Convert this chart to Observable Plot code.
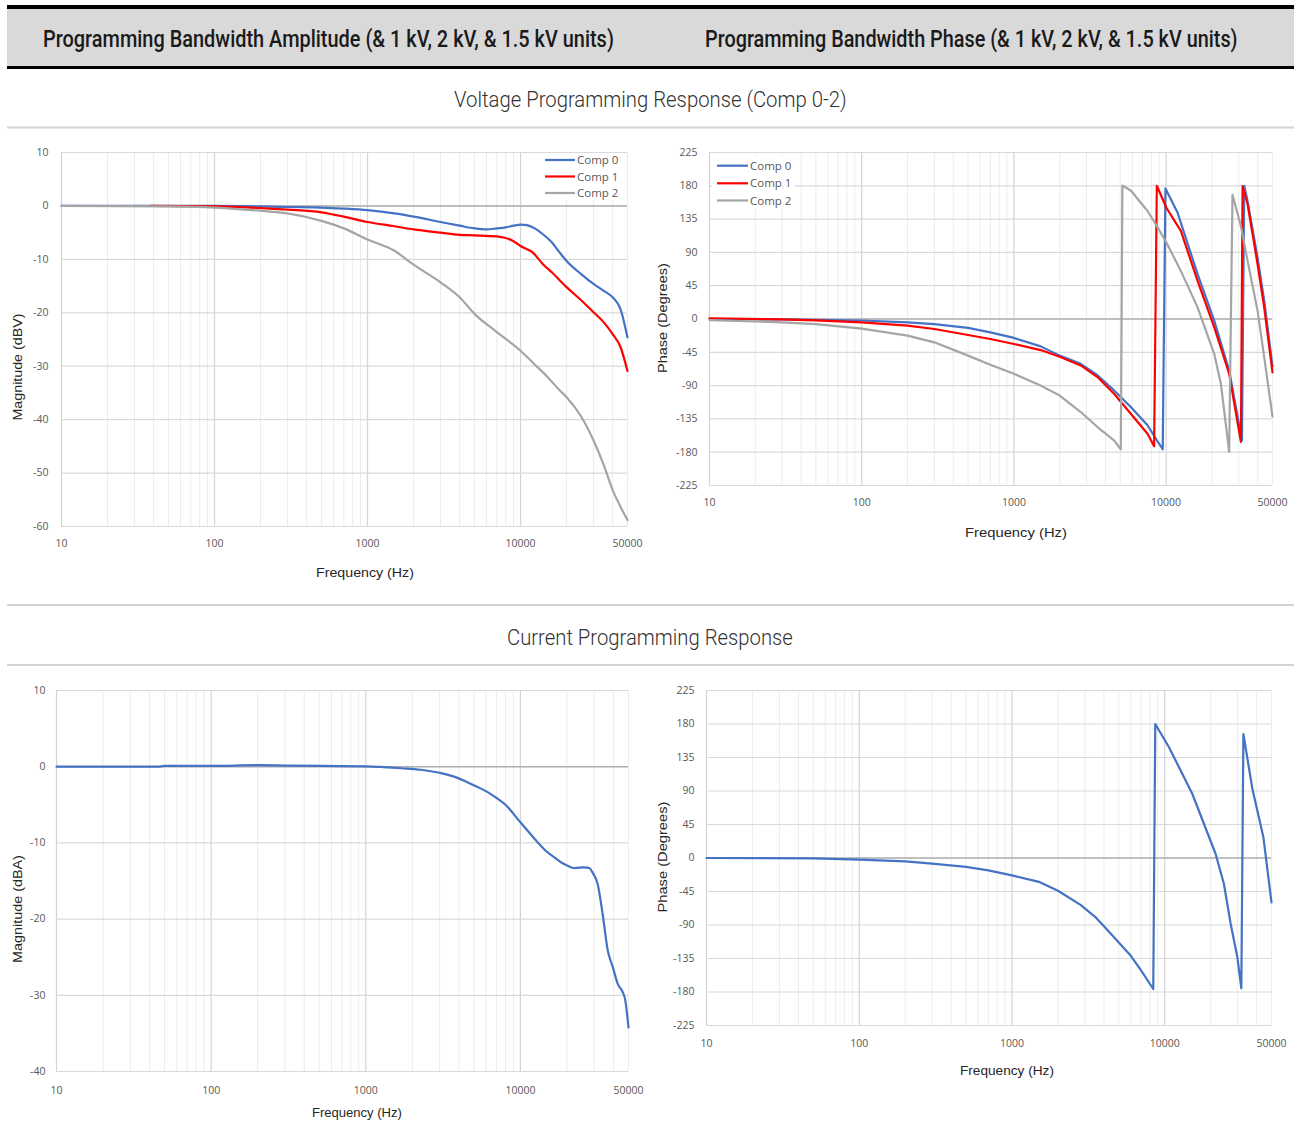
<!DOCTYPE html>
<html>
<head>
<meta charset="utf-8">
<script src="https://cdn.jsdelivr.net/npm/d3@7"></script>
<script src="https://cdn.jsdelivr.net/npm/@observablehq/plot@0.6"></script>
<style>
  html, body { margin: 0; padding: 0; background: #fff; }
  #page { position: relative; width: 1294px; height: 1140px; background: #fff; overflow: hidden; }
  .panel { position: absolute; }
  #overlay { position: absolute; left: 0; top: 0; pointer-events: none; }
</style>
</head>
<body>
<div id="page">
  <div id="p1" class="panel" style="left:0px;top:140px"></div>
  <div id="p2" class="panel" style="left:650px;top:140px"></div>
  <div id="p3" class="panel" style="left:0px;top:675px"></div>
  <div id="p4" class="panel" style="left:650px;top:675px"></div>
  <svg id="overlay" width="1294" height="1140"></svg>
</div>
<script>
// ---------- axis / grid values ----------
const freqTicks = [10, 100, 1000, 10000, 50000];
const decadeLines = [10, 100, 1000, 10000];
const minorLines = [20, 30, 40, 50, 60, 70, 80, 90, 200, 300, 400, 500, 600, 700, 800, 900,
  2000, 3000, 4000, 5000, 6000, 7000, 8000, 9000, 20000, 30000, 40000, 50000];
const voltMagTicks = [10, 0, -10, -20, -30, -40, -50, -60];
const currMagTicks = [10, 0, -10, -20, -30, -40];
const phaseTicks = [225, 180, 135, 90, 45, 0, -45, -90, -135, -180, -225];

const seriesNames = ["Comp 0", "Comp 1", "Comp 2"];
const seriesColors = ["#4472C4", "#FF0000", "#A5A5A5"];

// ---------- Voltage programming: magnitude (dBV) ----------
const vMagFreq0 = [10, 50, 100, 200, 300, 500, 700, 1000, 1500, 2000, 3000, 4000, 5000, 6000, 7000, 8000, 9000, 10000, 11000, 12000, 14000, 16000, 18000, 20000, 25000, 30000, 35000, 40000, 45000, 50000];
const vMagComp0 = [0, 0, 0, -0.1, -0.2, -0.3, -0.5, -0.8, -1.4, -2.0, -3.0, -3.7, -4.2, -4.4, -4.2, -4.0, -3.7, -3.5, -3.6, -4.0, -5.3, -6.8, -8.7, -10.3, -12.8, -14.6, -15.9, -17.1, -19.3, -24.6];
const vMagFreq1 = [38, 100, 200, 300, 500, 700, 1000, 1500, 2000, 3000, 4000, 5000, 7000, 8000, 9000, 10000, 12000, 14000, 16000, 20000, 25000, 30000, 35000, 40000, 45000, 50000];
const vMagComp1 = [0, -0.1, -0.4, -0.7, -1.2, -2.0, -3.0, -3.8, -4.4, -5.0, -5.4, -5.5, -5.7, -6.0, -6.6, -7.5, -8.7, -10.9, -12.4, -15.2, -17.7, -19.9, -21.8, -24.0, -26.4, -30.9];
const vMagFreq2 = [10, 50, 100, 200, 300, 500, 700, 1000, 1500, 2000, 3000, 4000, 5000, 7000, 10000, 12000, 15000, 18000, 20000, 25000, 30000, 35000, 40000, 45000, 50000];
const vMagComp2 = [0, -0.1, -0.3, -0.9, -1.4, -2.8, -4.2, -6.3, -8.4, -11.0, -14.3, -17.1, -20.2, -23.6, -27.1, -29.3, -32.0, -34.5, -35.8, -39.5, -43.9, -48.5, -53.2, -56.3, -58.8];

// ---------- Voltage programming: phase (degrees) ----------
const vPhFreq0 = [10, 30, 50, 100, 200, 300, 500, 700, 1000, 1500, 2000, 2750, 3540, 4550, 5860, 7550, 8700, 9500, 9900, 11900, 12500, 16100, 20700, 25960, 31500, 32600, 34300, 39900, 44100, 50000];
const vPhComp0 = [0, -0.6, -1.1, -2, -4.5, -7, -12, -18, -25.6, -37, -49.5, -60.6, -76, -96.5, -119, -143.6, -164, -176, 176.4, 143.6, 130, 60.6, -2.2, -69.6, -164, 180, 159, 83, 24.7, -64];
const vPhFreq1 = [10, 30, 50, 100, 200, 300, 500, 700, 1000, 1500, 2000, 2750, 3540, 4550, 5860, 7550, 8340, 8690, 10060, 12500, 16100, 20700, 25960, 31000, 31800, 34300, 39900, 44100, 50000];
const vPhComp1 = [1, -0.5, -1.8, -4.5, -9, -13.5, -21.6, -27, -33.8, -42, -51, -62.8, -78.5, -101, -128, -155, -172, 180, 150, 119, 51.6, -11, -74, -166, 179.5, 155, 74, 15.7, -72];
const vPhFreq2 = [10, 30, 50, 100, 200, 300, 500, 700, 1000, 1500, 2000, 2750, 3540, 4550, 5040, 5160, 5860, 7550, 8690, 10060, 12500, 16100, 20700, 22900, 25960, 27300, 31000, 34300, 39900, 44100, 50000];
const vPhComp2 = [-1.4, -4.5, -7, -13, -22.5, -31.5, -49.5, -61.7, -74, -90, -103.5, -125.7, -146, -164, -176, 180.4, 173.7, 145.9, 125.7, 103, 65, 15.7, -47, -87.5, -179.5, 168, 125.7, 78.5, 11, -51.6, -132];

// ---------- Current programming: magnitude (dBA) ----------
const iMagFreq = [10, 45, 50, 100, 200, 300, 500, 1000, 1300, 1700, 2270, 3000, 3730, 4500, 5200, 6100, 7000, 8000, 10000, 12900, 14500, 16600, 18500, 20200, 22300, 25900, 27900, 29300, 31600, 34000, 36700, 39600, 42600, 45900, 47500, 50000];
const iMagVal = [0, 0, 0.1, 0.1, 0.2, 0.15, 0.1, 0.05, -0.05, -0.2, -0.4, -0.8, -1.3, -2.0, -2.6, -3.3, -4.1, -5.0, -7.3, -9.9, -11.0, -11.9, -12.6, -13.0, -13.3, -13.2, -13.3, -13.9, -15.4, -19.3, -24.1, -26.3, -28.5, -29.6, -30.5, -34.2];

// ---------- Current programming: phase (degrees) ----------
const iPhFreq = [10, 50, 100, 200, 300, 500, 700, 1000, 1500, 2000, 2810, 3500, 4100, 5980, 7000, 8410, 8670, 10660, 12400, 15170, 18080, 21540, 24410, 27030, 29870, 31730, 32730, 37500, 44260, 50000];
const iPhVal = [0, -0.5, -2.2, -4.5, -7.6, -12, -16.6, -23.3, -32, -44, -63, -79, -94, -131, -151, -176, 180, 148.7, 121.8, 86, 45.7, 5.4, -35, -88.7, -133, -175, 166.6, 92.7, 27.8, -59.6];

// ---------- helpers ----------
const rows = (fs, vs) => fs.map((f, i) => ({f, v: vs[i]}));

function panel(el, cfg) {
  const lines = cfg.series.map(s => Plot.line(rows(s.f, s.v), {
    x: "f", y: "v", stroke: s.color, strokeWidth: 2.2, strokeLinejoin: "round", curve: cfg.curve
  }));
  const chart = Plot.plot({
    width: cfg.width, height: cfg.height,
    marginTop: cfg.mt, marginBottom: cfg.mb, marginLeft: cfg.ml, marginRight: cfg.mr,
    x: {type: "log", domain: [10, 50000], axis: null},
    y: {domain: cfg.yDomain},
    style: {background: "transparent", fontFamily: "'Open Sans', 'Liberation Sans', sans-serif",
            fontSize: "10.5px", color: "#595959", overflow: "visible"},
    marks: [
      Plot.ruleX(minorLines, {stroke: "#ececec", strokeWidth: 1}),
      Plot.ruleX(decadeLines, {stroke: "#d4d4d4", strokeWidth: 1.2}),
      Plot.ruleY(cfg.yTicks, {stroke: "#d9d9d9", strokeWidth: 1.2}),
      Plot.ruleY([0], {stroke: "#b0b0b0", strokeWidth: 1.5}),
      Plot.axisY({ticks: cfg.yTicks, tickSize: 0, tickPadding: cfg.yPad, label: null, tickFormat: d => String(d)}),
      // x tick labels as a text mark anchored to the bottom of the frame
      Plot.text(freqTicks, {x: d => d, frameAnchor: "bottom", dy: cfg.xDy, text: d => String(d),
        fill: "#595959", fontSize: 10.5}),
      ...lines
    ]
  });
  el.appendChild(chart);
}

const vSeriesMag = [
  {f: vMagFreq0, v: vMagComp0, color: seriesColors[0]},
  {f: vMagFreq1, v: vMagComp1, color: seriesColors[1]},
  {f: vMagFreq2, v: vMagComp2, color: seriesColors[2]}
];
const vSeriesPh = [
  {f: vPhFreq0, v: vPhComp0, color: seriesColors[0]},
  {f: vPhFreq1, v: vPhComp1, color: seriesColors[1]},
  {f: vPhFreq2, v: vPhComp2, color: seriesColors[2]}
];

panel(document.getElementById("p1"), {width: 645, height: 410, mt: 12, mb: 24, ml: 61, mr: 18,
  yDomain: [-60, 10], yTicks: voltMagTicks, yPad: 13, xDy: 20, curve: "monotone-x", series: vSeriesMag});
panel(document.getElementById("p2"), {width: 644, height: 370, mt: 12, mb: 25, ml: 59, mr: 22,
  yDomain: [-225, 225], yTicks: phaseTicks, yPad: 12, xDy: 20, curve: "linear", series: vSeriesPh});
panel(document.getElementById("p3"), {width: 645, height: 425, mt: 15, mb: 29, ml: 56, mr: 17,
  yDomain: [-40, 10], yTicks: currMagTicks, yPad: 11, xDy: 22, curve: "monotone-x", series: [{f: iMagFreq, v: iMagVal, color: seriesColors[0]}]});
panel(document.getElementById("p4"), {width: 644, height: 380, mt: 15, mb: 30, ml: 56, mr: 23,
  yDomain: [-225, 225], yTicks: phaseTicks, yPad: 12, xDy: 21, curve: "linear", series: [{f: iPhFreq, v: iPhVal, color: seriesColors[0]}]});

// ---------- overlay: header, section titles, axis titles, legends ----------
const ov = d3.select("#overlay");

// text squeezed horizontally to the reference width (condensed look)
function fitText(text, x, y, len, attrs, rotate) {
  const t = ov.append("text").text(text).attr("x", 0).attr("y", 0);
  Object.entries(attrs).forEach(([k, v]) => t.attr(k, v));
  const w = t.node().getComputedTextLength() || len;
  const s = len / w;
  t.attr("transform", rotate ? `translate(${x},${y}) rotate(-90) scale(${s},1)` : `translate(${x},${y}) scale(${s},1)`);
  return t;
}

// header band
ov.append("rect").attr("x", 7).attr("y", 5).attr("width", 1287).attr("height", 4).attr("fill", "#000");
ov.append("rect").attr("x", 7).attr("y", 9).attr("width", 1287).attr("height", 57).attr("fill", "#d9d9d9");
ov.append("rect").attr("x", 7).attr("y", 66).attr("width", 1287).attr("height", 3).attr("fill", "#000");

const headerTitles = [
  {text: "Programming Bandwidth Amplitude (& 1 kV, 2 kV, & 1.5 kV units)", x: 43, len: 571},
  {text: "Programming Bandwidth Phase (& 1 kV, 2 kV, & 1.5 kV units)", x: 705, len: 533}
];
headerTitles.forEach(t => fitText(t.text, t.x, 47, t.len, {
  "font-family": "Roboto, 'Liberation Sans', sans-serif", "font-size": 24.5, "font-weight": 500, "fill": "#1a1a1a"}));

// section separators and titles
[127.5, 605, 665].forEach(y => ov.append("rect").attr("x", 7).attr("y", y - 1).attr("width", 1287)
  .attr("height", 2).attr("fill", "#d4d4d4"));
const sectionTitles = [
  {text: "Voltage Programming Response (Comp 0-2)", x: 454, y: 107, len: 393},
  {text: "Current Programming Response", x: 507, y: 645, len: 286}
];
sectionTitles.forEach(t => fitText(t.text, t.x, t.y, t.len, {
  "font-family": "Roboto, 'Liberation Sans', sans-serif", "font-size": 22, "font-weight": 300, "fill": "#333"}));

// axis titles
const axisFont = {"font-family": "'Liberation Sans', Arial, sans-serif", "font-size": 13.5, "fill": "#262626"};
const xTitles = [
  {x: 365, y: 572, len: 98}, {x: 1016, y: 532, len: 102},
  {x: 357, y: 1112, len: 90}, {x: 1007, y: 1070, len: 94}
];
xTitles.forEach(t => fitText("Frequency (Hz)", t.x - t.len / 2, t.y + 5, t.len, axisFont));
const yTitles = [
  {text: "Magnitude (dBV)", x: 17, y: 367, len: 107},
  {text: "Phase (Degrees)", x: 662, y: 318, len: 110},
  {text: "Magnitude (dBA)", x: 17, y: 909, len: 108},
  {text: "Phase (Degrees)", x: 662, y: 857, len: 111}
];
yTitles.forEach(t => fitText(t.text, t.x + 5, t.y + t.len / 2, t.len, axisFont, true));

// legends
const legends = [
  {box: [540, 153, 83, 47], x0: 545, x1: 575, ys: [160, 176.5, 193]},
  {box: [712, 156, 83, 52], x0: 717, x1: 748, ys: [165.7, 183.3, 200.5]}
];
legends.forEach(L => {
  ov.append("rect").attr("x", L.box[0]).attr("y", L.box[1]).attr("width", L.box[2]).attr("height", L.box[3]).attr("fill", "#fff");
  seriesNames.forEach((name, i) => {
    ov.append("line").attr("x1", L.x0).attr("x2", L.x1).attr("y1", L.ys[i]).attr("y2", L.ys[i])
      .attr("stroke", seriesColors[i]).attr("stroke-width", 2.2);
    ov.append("text").text(name).attr("x", L.x1 + 2).attr("y", L.ys[i] + 4)
      .attr("font-family", "'Open Sans', sans-serif").attr("font-size", 11.5).attr("fill", "#595959");
  });
});
</script>
</body>
</html>
